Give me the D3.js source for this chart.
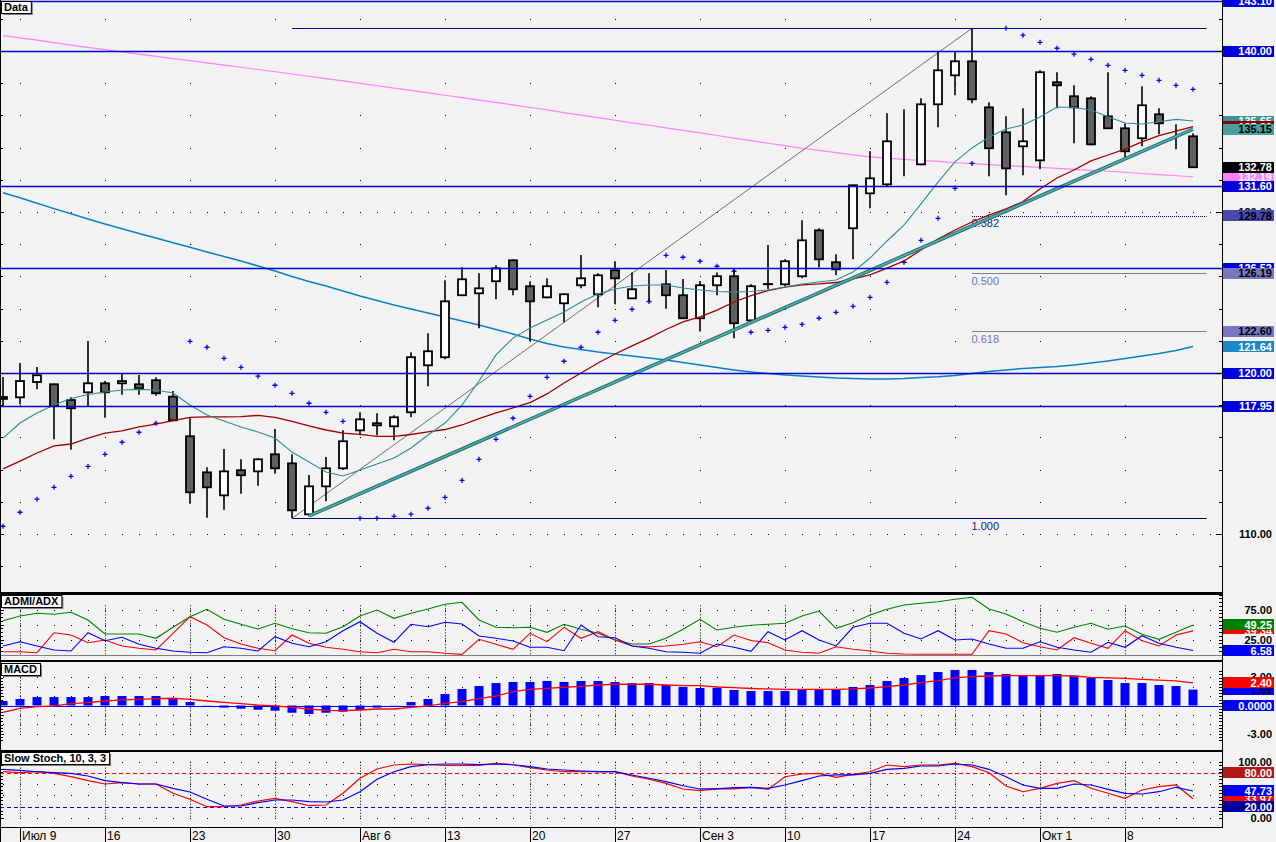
<!DOCTYPE html>
<html><head><meta charset="utf-8">
<script src="https://cdn.jsdelivr.net/npm/d3@7"></script>
<style>html,body{margin:0;padding:0;background:#f2f2f2;overflow:hidden}svg{display:block}</style>
</head><body>
<svg id="chart" width="1276" height="842"></svg>
<script>
// ---------------- DATA ----------------
const dates = [
"2007-07-06",
"2007-07-09","2007-07-10","2007-07-11","2007-07-12","2007-07-13",
"2007-07-16","2007-07-17","2007-07-18","2007-07-19","2007-07-20",
"2007-07-23","2007-07-24","2007-07-25","2007-07-26","2007-07-27",
"2007-07-30","2007-07-31","2007-08-01","2007-08-02","2007-08-03",
"2007-08-06","2007-08-07","2007-08-08","2007-08-09","2007-08-10",
"2007-08-13","2007-08-14","2007-08-15","2007-08-16","2007-08-17",
"2007-08-20","2007-08-21","2007-08-22","2007-08-23","2007-08-24",
"2007-08-27","2007-08-28","2007-08-29","2007-08-30","2007-08-31",
"2007-09-03","2007-09-04","2007-09-05","2007-09-06","2007-09-07",
"2007-09-10","2007-09-11","2007-09-12","2007-09-13","2007-09-14",
"2007-09-17","2007-09-18","2007-09-19","2007-09-20","2007-09-21",
"2007-09-24","2007-09-25","2007-09-26","2007-09-27","2007-09-28",
"2007-10-01","2007-10-02","2007-10-03","2007-10-04","2007-10-05",
"2007-10-08","2007-10-09","2007-10-10","2007-10-11","2007-10-12"];
const weekLabels = ["Июл 9","16","23","30","Авг 6","13","20","27","Сен 3","10","17","24","Окт 1","8"];

const open  = [118.51,118.49,119.44,119.30,118.32,118.80,119.36,119.36,119.30,119.55,118.53,116.07,113.83,112.40,113.96,113.89,114.95,114.39,111.22,112.96,114.08,116.44,116.75,116.69,117.56,120.48,120.98,124.83,124.95,125.70,127.00,125.39,124.70,124.33,125.45,124.89,126.38,124.64,125.45,125.51,124.83,123.40,125.45,126.01,123.27,125.51,125.51,126.01,128.86,126.88,128.99,131.16,131.72,135.01,132.96,136.69,138.49,139.36,136.50,134.95,134.08,133.21,138.06,137.19,137.06,135.94,135.20,134.58,136.07,134.95,134.70];
const high  = [119.75,120.62,120.37,119.35,118.49,121.99,119.50,119.94,119.88,119.74,118.88,117.19,114.14,115.28,114.64,114.70,116.52,114.95,113.66,114.78,116.44,117.56,117.50,117.37,121.29,122.47,125.76,126.57,126.19,126.69,127.05,125.70,125.88,124.95,127.33,126.19,126.94,126.25,126.19,126.40,125.84,125.71,126.25,126.44,125.51,127.95,127.06,129.48,128.99,127.37,131.70,133.77,136.13,136.38,137.06,139.98,139.98,141.41,136.81,135.94,136.44,138.80,138.68,137.87,137.19,138.68,135.51,137.81,136.44,135.45,134.89];
const low   = [117.95,118.06,118.99,115.88,115.24,117.95,117.22,118.65,118.65,118.59,117.06,111.88,111.01,111.51,112.50,113.00,113.75,110.98,111.10,112.03,113.98,116.13,116.13,115.82,117.25,119.17,120.85,124.80,122.78,124.58,124.83,121.97,124.64,123.15,125.26,124.08,124.27,124.60,124.45,123.99,123.35,122.57,124.83,122.16,123.20,125.20,125.39,125.88,126.57,126.07,127.06,130.23,131.57,132.22,132.90,135.26,137.25,136.75,132.22,131.04,132.28,132.65,136.44,134.27,134.14,135.20,133.40,134.08,134.83,133.89,132.78];
const close = [118.39,119.50,119.86,117.95,117.81,119.36,118.80,119.50,119.05,118.74,117.06,112.59,112.90,113.89,113.65,114.64,114.08,111.47,112.96,114.08,115.76,117.12,116.88,117.25,120.98,121.35,124.45,125.82,125.26,126.50,125.20,124.45,125.39,124.89,125.88,126.07,125.88,125.20,125.45,124.83,123.40,125.45,126.01,123.09,125.39,125.53,126.94,128.24,127.06,126.44,131.66,132.09,134.39,135.01,136.69,138.80,139.36,137.00,133.96,132.71,134.39,138.68,137.87,136.50,134.20,135.20,133.77,136.63,135.51,134.95,132.78];

// moving averages
const maShort = [115.96,116.89,117.52,118.01,118.42,118.66,118.82,118.94,118.98,118.94,118.76,118.01,117.39,117.02,116.65,116.34,115.96,115.09,114.47,113.85,113.60,113.98,114.35,114.72,115.34,116.15,116.89,118.01,119.50,121.12,122.17,122.80,123.29,123.79,124.41,124.91,125.22,125.40,125.47,125.47,125.28,125.16,125.06,125.03,125.06,125.16,125.34,125.53,125.65,125.78,126.27,127.14,128.20,129.19,130.50,131.86,133.11,133.98,134.66,135.16,135.40,135.90,136.52,136.49,136.34,135.92,135.53,135.47,135.61,135.75,135.65];
const maMid   = [114.04,114.53,115.03,115.47,115.59,115.96,116.27,116.40,116.65,116.83,117.04,117.24,117.27,117.27,117.29,117.37,117.24,116.99,116.71,116.46,116.27,116.19,116.06,116.06,116.18,116.34,116.49,116.77,117.17,117.52,117.83,118.16,118.70,119.38,120.00,120.62,121.18,121.68,122.17,122.70,123.17,123.48,123.91,124.41,124.81,125.12,125.34,125.47,125.53,125.62,125.84,126.09,126.52,126.96,127.64,128.32,128.88,129.38,129.81,130.19,130.65,131.43,132.11,132.61,133.17,133.54,133.91,134.35,134.75,135.03,135.30];
const maLong  = [131.20,130.88,130.54,130.21,129.89,129.57,129.25,128.96,128.67,128.39,128.09,127.81,127.52,127.24,126.96,126.65,126.34,125.99,125.68,125.40,125.09,124.78,124.50,124.22,123.98,123.73,123.48,123.23,122.98,122.70,122.42,122.11,121.83,121.61,121.46,121.30,121.18,121.06,120.93,120.81,120.65,120.50,120.34,120.19,120.06,119.97,119.88,119.81,119.75,119.69,119.66,119.63,119.63,119.66,119.72,119.76,119.84,119.97,120.09,120.19,120.28,120.34,120.40,120.50,120.62,120.75,120.90,121.06,121.21,121.40,121.64];
const ma200   = [140.96,140.81,140.67,140.52,140.37,140.23,140.08,139.94,139.81,139.67,139.53,139.40,139.26,139.12,138.99,138.85,138.71,138.57,138.43,138.29,138.14,137.99,137.84,137.69,137.55,137.40,137.25,137.10,136.95,136.81,136.65,136.49,136.34,136.17,136.02,135.86,135.70,135.54,135.39,135.22,135.07,134.91,134.75,134.59,134.43,134.27,134.12,133.96,133.83,133.69,133.55,133.42,133.35,133.27,133.20,133.14,133.06,133.00,132.94,132.88,132.83,132.77,132.71,132.65,132.59,132.53,132.47,132.39,132.32,132.25,132.19];
const sar     = [110.48,111.35,112.16,112.90,113.58,114.20,114.95,115.70,116.32,116.88,117.45,121.97,121.60,120.91,120.35,119.80,119.24,118.74,118.12,117.56,117.00,110.98,110.98,111.10,111.23,111.60,112.28,113.33,114.64,115.88,117.19,118.55,119.73,120.73,121.60,122.53,123.27,123.96,124.44,127.31,127.19,126.94,126.63,126.32,122.53,122.65,122.84,123.02,123.40,123.77,124.14,124.70,125.63,126.88,128.24,129.61,131.47,133.02,134.29,141.41,140.98,140.54,140.17,139.80,139.48,139.11,138.80,138.49,138.18,137.87,137.62];

const hLevels = [143.10, 140.00, 131.60, 126.52, 120.00, 117.95];
const fibRatios = [0, 0.382, 0.5, 0.618, 1];
const fibLowIdx = 17, fibLow = 110.97, fibHighIdx = 57, fibHigh = 141.41;
const trendIdx = [18, 70], trendPrice = [111.12, 135.15];

// ADMI/ADX
const adx   = [56.3,64.2,68.7,67.0,70.3,57.5,34.2,34.2,34.2,27.0,45.3,63.0,75.3,58.7,50.3,42.5,52.0,43.0,36.3,35.3,46.3,64.2,74.2,60.3,68.7,75.8,83.7,87.0,57.5,45.3,44.7,45.3,37.0,50.3,42.0,35.3,24.2,17.5,17.5,27.0,42.0,58.7,40.8,45.3,48.7,50.3,52.0,64.2,72.5,43.7,53.0,65.8,75.3,82.5,85.3,88.0,92.0,95.3,75.8,67.5,54.7,43.7,37.0,45.3,52.0,42.0,47.5,33.7,25.3,37.0,49.25];
const diRed = [4.7,4.7,3.0,36.3,32.5,19.7,24.2,14.2,10.3,7.5,35.3,63.0,49.2,28.0,17.5,10.3,6.3,32.5,18.7,12.0,8.7,4.7,3.0,8.7,4.7,4.7,2.0,0.3,25.3,17.0,8.7,35.3,21.3,45.3,27.0,38.0,24.2,14.2,13.0,14.2,17.0,21.3,13.0,32.5,23.3,19.7,7.5,3.7,2.0,13.0,8.7,5.8,2.0,0.8,0.5,0.5,0.5,0.5,39.7,34.2,19.7,13.0,7.5,28.0,18.7,10.3,39.7,23.0,14.2,32.5,39.34];
const diBlue= [14.2,21.3,14.2,7.5,5.8,36.3,23.0,28.7,17.0,10.3,5.8,3.7,3.0,13.0,10.3,5.8,29.7,18.7,13.0,21.3,39.7,54.7,35.3,20.3,50.3,46.3,53.7,50.8,30.8,27.0,22.5,12.0,12.0,6.3,49.2,29.7,28.0,14.2,10.3,4.7,3.7,2.0,17.5,12.0,5.3,38.0,24.2,39.7,24.2,14.2,45.3,52.0,52.0,35.3,25.8,39.7,24.2,25.8,17.5,10.3,10.3,21.3,12.0,7.5,3.7,20.3,12.0,31.3,18.7,12.0,6.58];
// MACD
const macd  = [0.48,0.69,0.90,0.90,0.90,0.90,1.01,1.01,1.01,1.01,0.80,0.37,0.02,-0.23,-0.34,-0.45,-0.55,-0.77,-0.90,-0.77,-0.66,-0.48,-0.23,0.02,0.37,0.69,1.22,1.76,2.07,2.39,2.50,2.50,2.61,2.50,2.61,2.61,2.50,2.39,2.39,2.18,1.97,1.86,1.86,1.65,1.54,1.54,1.54,1.68,1.68,1.68,1.97,2.18,2.61,2.93,3.24,3.56,3.78,3.78,3.56,3.35,3.17,3.17,3.35,3.17,2.93,2.71,2.39,2.39,2.18,2.07,1.69];
const macdSignal = [-0.73,-0.30,-0.12,-0.05,0.19,0.30,0.48,0.59,0.66,0.73,0.77,0.66,0.48,0.34,0.19,0.05,-0.05,-0.20,-0.37,-0.51,-0.55,-0.48,-0.37,-0.37,-0.19,-0.05,0.23,0.41,0.73,1.01,1.47,1.72,1.83,1.94,2.04,2.18,2.26,2.26,2.26,2.18,2.11,2.11,1.97,1.90,1.81,1.76,1.72,1.72,1.72,1.72,1.76,1.86,2.00,2.18,2.43,2.64,2.93,3.07,3.14,3.17,3.17,3.17,3.17,3.14,3.00,2.93,2.89,2.79,2.71,2.61,2.40];
// Slow Stoch 10,3,3
const stochK = [86.4,84.6,82.1,80.4,79.3,74.5,66.1,62.5,60.2,60.2,52.5,45.9,32.9,20.9,20.9,26.8,31.6,31.6,28.6,28.0,31.6,46.4,68.6,82.1,91.1,94.6,95.9,95.9,94.6,95.9,94.6,91.1,87.0,85.2,83.4,82.1,82.1,76.3,70.4,64.3,57.1,51.3,51.3,53.6,54.0,52.5,58.4,66.1,74.5,76.3,76.3,79.3,86.4,88.2,92.3,92.3,95.9,94.1,86.4,73.2,58.4,52.5,52.5,60.2,58.4,50.7,43.6,42.3,46.4,54.3,47.73];
const stochD = [82.1,80.4,82.1,79.3,73.2,66.1,60.2,62.5,60.2,60.2,43.6,32.9,19.6,19.6,22.7,29.8,34.6,28.6,21.4,22.7,43.6,70.4,87.0,94.1,95.9,94.6,93.6,93.6,93.6,97.1,94.6,89.3,85.2,82.1,82.1,82.1,82.1,74.5,68.6,61.4,51.3,48.2,51.3,51.3,54.3,50.7,73.2,78.0,79.3,72.1,77.5,82.1,94.1,91.1,94.1,94.1,97.1,91.1,80.4,56.6,46.4,52.5,61.4,66.1,52.5,43.6,34.6,49.5,55.4,58.4,33.97];
const stochLevels = [80, 20];

// ---------------- DRAW ----------------
const BG = '#f2f2f2', PR = 1222;
const FONT = 'Liberation Sans, Arial, sans-serif';
const svg = d3.select('#chart');
svg.append('rect').attr('width',1276).attr('height',842).attr('fill',BG);
const defs = svg.append('defs');
defs.append('clipPath').attr('id','cm').append('rect').attr('x',0).attr('y',0).attr('width',PR).attr('height',592);

const parse = d3.timeParse('%Y-%m-%d');
const N = dates.length;
const x = d3.scaleLinear().domain([0, N-1]).range([3, 1193]);
const yP = d3.scaleLinear().domain([110,140]).range([534,51]);
const yA = d3.scaleLinear().domain([0,100]).range([654.5,594.5]);
const yM = d3.scaleLinear().domain([-3,3]).range([733.7,677.3]);
const yS = d3.scaleLinear().domain([0,100]).range([817.7,761.7]);
const mondays = dates.map((d,i)=>parse(d).getDay()===1 ? i : -1).filter(i=>i>=0);

function dots(g, xs, yv){
  xs.forEach(xx=> g.append('rect').attr('x',Math.round(xx)).attr('y',Math.round(yv)).attr('width',1).attr('height',1).attr('fill','#000'));
}
const allBars = d3.range(0, N+1);

// ===== main panel =====
const gm = svg.append('g').attr('clip-path','url(#cm)');
// grid dots
d3.range(108,143,2).forEach(v=>{
  if (v%10===0) dots(gm, allBars.map(i=>x(i)), yP(v));
  else dots(gm, mondays.map(i=>x(i)), yP(v));
});
// long MAs
const lineP = (arr)=>d3.line().x((d,i)=>x(i)).y(d=>yP(d))(arr);
gm.append('path').attr('d', lineP(ma200)).attr('fill','none').attr('stroke','#ff80ff').attr('stroke-width',1.2);
gm.append('path').attr('d', lineP(maLong)).attr('fill','none').attr('stroke','#0a80c0').attr('stroke-width',1.5);

// fib
const fibP = r => fibHigh - r*(fibHigh-fibLow);
const fibEnd = 70.8;
fibRatios.forEach(r=>{
  const start = (r===0||r===1) ? fibLowIdx : fibHighIdx;
  const col = (r===0.5||r===0.618) ? '#808080' : '#000080';
  const l = gm.append('line').attr('x1',x(start)).attr('x2',x(fibEnd)).attr('y1',Math.round(yP(fibP(r)))+0.5).attr('y2',Math.round(yP(fibP(r)))+0.5)
    .attr('stroke',col).attr('stroke-width',1.2);
  if (r===0.382) l.attr('stroke-dasharray','1,1');
  if (r>0) gm.append('text').attr('x',x(fibHighIdx)-0.5).attr('y',yP(fibP(r))+11.5)
    .attr('font-family',FONT).attr('font-size',11)
    .attr('fill', (r===0.5||r===0.618)?'#7272b4':'#1a1a88').text(r.toFixed(3));
});
gm.append('line').attr('x1',x(fibLowIdx)).attr('y1',yP(fibLow)).attr('x2',x(fibHighIdx)).attr('y2',yP(fibHigh))
  .attr('stroke','#6e6e6e').attr('stroke-width',1);

// SAR
sar.forEach((v,i)=>{
  gm.append('path').attr('d',`M${x(i)-2.5},${yP(v)}H${x(i)+2.5}M${x(i)},${yP(v)-2.5}V${yP(v)+2.5}`)
    .attr('stroke','#0000ff').attr('stroke-width',1.3);
});

// candles
open.forEach((o,i)=>{
  const c = close[i], cx = x(i);
  gm.append('line').attr('x1',cx).attr('x2',cx).attr('y1',yP(high[i])).attr('y2',yP(low[i])).attr('stroke','#000').attr('stroke-width',1.6);
  const top = yP(Math.max(o,c)), bot = yP(Math.min(o,c));
  gm.append('rect').attr('x',cx-4).attr('width',8).attr('y',top).attr('height',Math.max(0,bot-top))
    .attr('fill', c>=o ? '#ffffff' : '#606060').attr('stroke','#000').attr('stroke-width',1.8);
});

// short/mid MAs
gm.append('path').attr('d', lineP(maMid)).attr('fill','none').attr('stroke','#a00000').attr('stroke-width',1.3);
gm.append('path').attr('d', lineP(maShort)).attr('fill','none').attr('stroke','#2f8c8c').attr('stroke-width',1.1);
// trend line
const tl = `M${x(trendIdx[0])},${yP(trendPrice[0])}L${x(trendIdx[1])},${yP(trendPrice[1])}`;
gm.append('path').attr('d',tl).attr('stroke','#2c6b6b').attr('stroke-width',3.6).attr('fill','none');
gm.append('path').attr('d',tl).attr('stroke','#4db0b0').attr('stroke-width',1.6).attr('fill','none');

// horizontal blue levels
hLevels.forEach(v=>{
  const yy = Math.round(yP(v))+0.5;
  gm.append('line').attr('x1',0).attr('x2',PR).attr('y1',yy).attr('y2',yy).attr('stroke','#0000d0').attr('stroke-width',1.3);
});

// left / right ticks main
d3.range(108,143,2).forEach(v=>{
  const yy = Math.round(yP(v))+0.5;
  svg.append('line').attr('x1',0).attr('x2',3).attr('y1',yy).attr('y2',yy).attr('stroke','#000');
  svg.append('line').attr('x1', v%10===0 ? 1216 : 1219).attr('x2',PR).attr('y1',yy).attr('y2',yy).attr('stroke','#000');
});

// ===== indicator panels =====
function panel(top, bottom, scale, rows, vTop, vBot, tickStep, tickFrom, tickTo){
  const g = svg.append('g');
  rows.forEach(v=> dots(g, allBars.map(i=>x(i)), scale(v)));
  mondays.forEach(i=>{
    g.append('line').attr('x1',Math.round(x(i))+0.5).attr('x2',Math.round(x(i))+0.5)
      .attr('y1',scale(vTop)).attr('y2',scale(vBot)).attr('stroke','#000').attr('stroke-dasharray','1,2');
  });
  for (let v=tickFrom; v<=tickTo+1e-9; v+=tickStep){
    const yy = Math.round(scale(v))+0.5;
    if (yy<=top+1 || yy>=bottom-1) continue;
    g.append('line').attr('x1',0).attr('x2',3).attr('y1',yy).attr('y2',yy).attr('stroke','#000');
    g.append('line').attr('x1',1219).attr('x2',PR).attr('y1',yy).attr('y2',yy).attr('stroke','#000');
  }
  return g;
}
// ADX
const ga = panel(594, 660, yA, [25,50,75], 82, 0, 6.25, 0, 100);
ga.append('line').attr('x1',0).attr('x2',PR).attr('y1',Math.round(yA(0))+0.5).attr('y2',Math.round(yA(0))+0.5).attr('stroke','#808080');
const lineA = d3.line().x((d,i)=>x(i)).y(d=>yA(d));
ga.append('path').attr('d',lineA(adx)).attr('fill','none').attr('stroke','#008000').attr('stroke-width',1.1);
ga.append('path').attr('d',lineA(diRed)).attr('fill','none').attr('stroke','#ff0000').attr('stroke-width',1.1);
ga.append('path').attr('d',lineA(diBlue)).attr('fill','none').attr('stroke','#0000ff').attr('stroke-width',1.1);

// MACD
const gmc = panel(662, 750, yM, [3,2,1,-1,-2,-3], 3, -3, 1/3, -3.7, 3.7);
macd.forEach((v,i)=>{
  const y0 = yM(0), y1 = yM(v);
  gmc.append('rect').attr('x',x(i)-4.5).attr('width',9).attr('y',Math.min(y0,y1)).attr('height',Math.abs(y1-y0)).attr('fill','#0000ff');
});
gmc.append('line').attr('x1',0).attr('x2',PR).attr('y1',Math.round(yM(0))+0.5).attr('y2',Math.round(yM(0))+0.5).attr('stroke','#0000ff').attr('stroke-width',1.2);
gmc.append('path').attr('d',d3.line().x((d,i)=>x(i)).y(d=>yM(d))(macdSignal)).attr('fill','none').attr('stroke','#ff0000').attr('stroke-width',1.3);

// Stoch
const gs = panel(752, 827, yS, [100,60,40,0], 100, 0, 6.25, 0, 100);
stochLevels.forEach(v=>{
  gs.append('line').attr('x1',0).attr('x2',PR).attr('y1',Math.round(yS(v))+0.5).attr('y2',Math.round(yS(v))+0.5)
    .attr('stroke', v>50?'#ff0000':'#0000ff').attr('stroke-dasharray','4,3');
});
const lineS = d3.line().x((d,i)=>x(i)).y(d=>yS(d));
gs.append('path').attr('d',lineS(stochD)).attr('fill','none').attr('stroke','#ff0000').attr('stroke-width',1.2);
gs.append('path').attr('d',lineS(stochK)).attr('fill','none').attr('stroke','#0000ff').attr('stroke-width',1.2);

// ===== frame =====
svg.append('rect').attr('x',0).attr('y',592).attr('width',PR).attr('height',3).attr('fill','#000');
svg.append('rect').attr('x',0).attr('y',660).attr('width',PR).attr('height',2).attr('fill','#000');
svg.append('rect').attr('x',0).attr('y',750).attr('width',PR).attr('height',2).attr('fill','#000');
svg.append('rect').attr('x',0).attr('y',827).attr('width',PR+1).attr('height',1).attr('fill','#000');
svg.append('rect').attr('x',0).attr('y',0).attr('width',1).attr('height',842).attr('fill','#000');
svg.append('rect').attr('x',PR).attr('y',0).attr('width',1).attr('height',828).attr('fill','#000');

// x axis
mondays.forEach((i,k)=>{
  const xx = Math.round(x(i))+0.5;
  svg.append('line').attr('x1',xx).attr('x2',xx).attr('y1',828).attr('y2',842).attr('stroke','#000');
  svg.append('text').attr('x',xx+1.5).attr('y',840).attr('font-family',FONT).attr('font-size',12).attr('fill','#000').text(weekLabels[k]);
});

// ===== title boxes =====
function titleBox(x0,y0,text){
  const g = svg.append('g');
  const t = g.append('text').attr('x',x0+3).attr('y',y0+10).attr('font-family',FONT).attr('font-weight','bold').attr('font-size',11).text(text);
  const w = t.node().getComputedTextLength()+6;
  g.insert('rect','text').attr('x',x0+2).attr('y',y0+2).attr('width',w).attr('height',12).attr('fill','#808080');
  g.insert('rect','text').attr('x',x0+0.5).attr('y',y0+0.5).attr('width',w).attr('height',12).attr('fill','#fff').attr('stroke','#000');
}
titleBox(1,1,'Data');
titleBox(1,595,'ADMI/ADX');
titleBox(1,663,'MACD');
titleBox(1,752,'Slow Stoch, 10, 3, 3');

// ===== right labels =====
function rl(yc, text, bgc, fg){
  const g = svg.append('g');
  g.append('rect').attr('x',1223).attr('y',Math.round(yc-5.5)).attr('width',51).attr('height',11).attr('fill',bgc||BG).attr('shape-rendering','crispEdges');
  g.append('text').attr('x',1272).attr('y',yc+4).attr('text-anchor','end').attr('font-family',FONT).attr('font-weight','bold').attr('font-size',11).attr('fill',fg).text(text);
}
const f2 = d3.format('.2f');
const BLUE = '#0000e0';
rl(yP(hLevels[0]), f2(hLevels[0]), BLUE, '#fff');
rl(yP(hLevels[1]), f2(hLevels[1]), BLUE, '#fff');
rl(yP(maShort[N-1]), f2(maShort[N-1]), '#3a9494', '#fff');
rl(yP(maMid[N-1]), f2(maMid[N-1]), '#8b0000', '#fff');
rl(yP(trendPrice[1]), f2(trendPrice[1]), '#4a9e9e', '#000');
rl(yP(ma200[N-1]), f2(ma200[N-1]), '#ff80ff', '#fff');
rl(yP(close[N-1]), f2(close[N-1]), '#000', '#fff');
rl(yP(hLevels[2]), f2(hLevels[2]), BLUE, '#fff');
rl(yP(130), '130.00', null, '#000');
rl(yP(fibP(0.382)), f2(fibP(0.382)), '#4848b0', '#000');
rl(yP(hLevels[3]), f2(hLevels[3]), BLUE, '#fff');
rl(yP(fibP(0.5)), f2(fibP(0.5)), '#7878c0', '#000');
rl(yP(fibP(0.618)), f2(fibP(0.618)), '#7878c0', '#000');
rl(yP(maLong[N-1]), f2(maLong[N-1]), '#1a88c8', '#fff');
rl(yP(hLevels[4]), f2(hLevels[4]), BLUE, '#fff');
rl(yP(hLevels[5]), f2(hLevels[5]), BLUE, '#fff');
rl(yP(110), '110.00', null, '#000');
// ADX
rl(yA(75), '75.00', null, '#000');
rl(yA(diRed[N-1]), f2(diRed[N-1]), '#ff0000', '#fff');
rl(yA(adx[N-1]), f2(adx[N-1]), '#008000', '#fff');
rl(yA(25), '25.00', null, '#000');
rl(yA(diBlue[N-1]), f2(diBlue[N-1]), '#0000ff', '#fff');
// MACD
rl(yM(3), '3.00', null, '#000');
rl(yM(macd[N-1]), f2(macd[N-1]), '#0000ff', '#000040');
rl(yM(macdSignal[N-1]), f2(macdSignal[N-1]), '#ff0000', '#fff');
rl(yM(0), '0.0000', '#0000ff', '#fff');
rl(yM(-3), '-3.00', null, '#000');
// Stoch
rl(yS(100), '100.00', null, '#000');
rl(yS(80), '80.00', '#b01818', '#fff');
rl(yS(stochD[N-1]), f2(stochD[N-1]), '#ff0000', '#fff');
rl(yS(stochK[N-1]), f2(stochK[N-1]), '#0000ff', '#fff');
rl(yS(20), '20.00', '#0000a0', '#fff');
rl(yS(0), '0.00', null, '#000');
</script>
</body></html>
